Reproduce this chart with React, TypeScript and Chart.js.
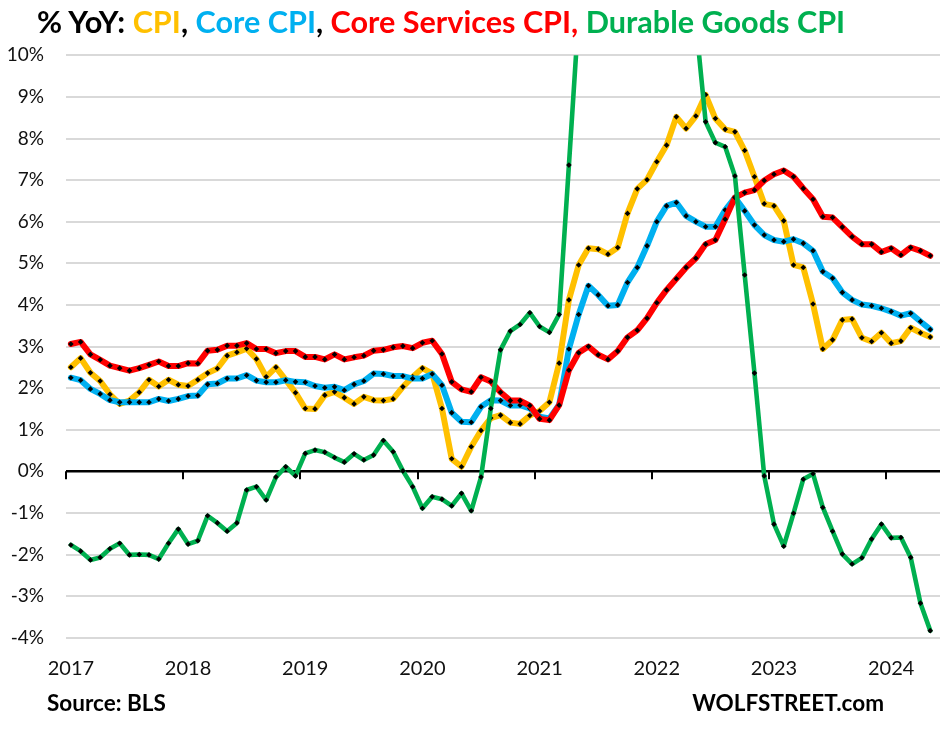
import React, { useEffect, useRef } from 'react';
import { Chart, registerables } from 'chart.js';

Chart.register(...registerables);

// Monthly YoY % changes, Jan 2017 .. May 2024 (89 months)
const YEAR_LABELS = ['2017', '2018', '2019', '2020', '2021', '2022', '2023', '2024'];

const cpi = [
  2.5, 2.72, 2.37, 2.17, 1.85, 1.62, 1.7, 1.9, 2.2, 2.04, 2.2, 2.08,
  2.05, 2.2, 2.36, 2.47, 2.78, 2.86, 2.95, 2.7, 2.27, 2.5, 2.2, 1.89,
  1.51, 1.5, 1.83, 1.91, 1.77, 1.62, 1.79, 1.71, 1.7, 1.74, 2.03, 2.27,
  2.48, 2.35, 1.51, 0.3, 0.11, 0.59, 0.98, 1.28, 1.35, 1.17, 1.14, 1.34,
  1.45, 1.66, 2.6, 4.12, 4.96, 5.36, 5.34, 5.22, 5.38, 6.2, 6.79, 7.01,
  7.44, 7.84, 8.52, 8.24, 8.54, 9.05, 8.48, 8.22, 8.16, 7.71, 7.08, 6.43,
  6.38, 6.02, 4.96, 4.9, 4.02, 2.94, 3.16, 3.64, 3.66, 3.21, 3.12, 3.33,
  3.08, 3.13, 3.45, 3.33, 3.23,
];

const coreCpi = [
  2.25, 2.19, 1.98, 1.86, 1.71, 1.66, 1.66, 1.66, 1.66, 1.74, 1.69, 1.74,
  1.81, 1.82, 2.09, 2.11, 2.23, 2.23, 2.31, 2.18, 2.14, 2.14, 2.19, 2.15,
  2.14, 2.05, 2.01, 2.03, 1.95, 2.09, 2.17, 2.35, 2.34, 2.29, 2.29, 2.23,
  2.23, 2.34, 2.07, 1.41, 1.19, 1.18, 1.55, 1.71, 1.7, 1.58, 1.59, 1.51,
  1.31, 1.27, 1.6, 2.94, 3.77, 4.46, 4.24, 3.98, 4.0, 4.54, 4.9, 5.42,
  6.0, 6.38, 6.46, 6.14, 6.0, 5.88, 5.88, 6.28, 6.58, 6.26, 5.92, 5.68,
  5.56, 5.52, 5.58, 5.48, 5.3, 4.8, 4.64, 4.3, 4.12, 4.01, 3.98, 3.92,
  3.84, 3.74, 3.8, 3.6, 3.41,
];

const coreServicesCpi = [
  3.06, 3.11, 2.81, 2.68, 2.54, 2.48, 2.42, 2.48, 2.56, 2.64, 2.53, 2.53,
  2.6, 2.59, 2.9, 2.92, 3.02, 3.02, 3.08, 2.94, 2.94, 2.84, 2.89, 2.89,
  2.75, 2.75, 2.69, 2.81, 2.69, 2.74, 2.78, 2.9, 2.92, 2.98, 3.01, 2.96,
  3.09, 3.14, 2.82, 2.15, 1.97, 1.91, 2.26, 2.16, 1.9, 1.7, 1.7, 1.58,
  1.26, 1.23, 1.59, 2.43, 2.85, 3.0, 2.8, 2.69, 2.89, 3.22, 3.39, 3.68,
  4.05, 4.36, 4.63, 4.9, 5.12, 5.46, 5.56, 6.06, 6.58, 6.7, 6.76, 6.99,
  7.14, 7.23, 7.08, 6.8, 6.54, 6.12, 6.1, 5.87, 5.64, 5.46, 5.46, 5.27,
  5.36, 5.2, 5.38, 5.3, 5.18,
];

const durableGoodsCpi = [
  -1.77, -1.92, -2.13, -2.07, -1.86, -1.73, -2.01, -2.0, -2.01, -2.11, -1.73, -1.39,
  -1.75, -1.67, -1.07, -1.24, -1.44, -1.24, -0.45, -0.37, -0.69, -0.14, 0.11, -0.11,
  0.43, 0.51, 0.46, 0.33, 0.22, 0.42, 0.27, 0.39, 0.74, 0.47, 0.01, -0.37,
  -0.89, -0.61, -0.67, -0.83, -0.53, -0.95, -0.14, 1.51, 2.92, 3.37, 3.53, 3.81,
  3.48, 3.34, 3.77, 7.36, 11.0, 14.6, 15.1, 14.0, 13.2, 13.2, 14.9, 16.6,
  18.3, 18.7, 17.6, 14.2, 10.8, 8.4, 7.9, 7.8, 7.1, 4.72, 2.36, -0.11,
  -1.27, -1.8, -1.01, -0.19, -0.06, -0.87, -1.44, -1.99, -2.23, -2.08, -1.63, -1.27,
  -1.6, -1.59, -2.07, -3.17, -3.83,
];

const Y_MIN = -4;
const Y_MAX = 10;

const COLORS = {
  cpi: '#FFC000',
  core: '#00B0F0',
  services: '#FF0000',
  durable: '#00B050',
};

const FONT = 'Lato, "Open Sans", "Liberation Sans", sans-serif';

const toPoints = (arr: number[]) => arr.map((v, i) => ({ x: i, y: v }));

const zeroAxisPlugin = {
  id: 'zeroAxis',
  beforeDatasetsDraw(chart: any) {
    const { ctx, chartArea, scales } = chart;
    const x = scales.x;
    const y = scales.y;
    const y0 = y.getPixelForValue(0);
    ctx.save();
    ctx.strokeStyle = '#000';
    ctx.lineWidth = 2.5;
    ctx.beginPath();
    ctx.moveTo(chartArea.left, y0);
    ctx.lineTo(chartArea.right, y0);
    ctx.stroke();
    ctx.lineWidth = 2;
    YEAR_LABELS.forEach((_, k) => {
      const px = Math.round(x.getPixelForValue(-0.5 + 12 * k));
      ctx.beginPath();
      ctx.moveTo(px, y0);
      ctx.lineTo(px, y0 + 8);
      ctx.stroke();
    });
    ctx.restore();
  },
};

export default function App() {
  const canvasRef = useRef<HTMLCanvasElement | null>(null);

  useEffect(() => {
    document.body.style.margin = '0';
    const canvas = canvasRef.current;
    if (!canvas) return;

    const lineDs = (label: string, data: number[], color: string, width: number, order: number) => ({
      label,
      data: toPoints(data),
      borderColor: color,
      backgroundColor: color,
      borderWidth: width,
      borderJoinStyle: 'round' as const,
      borderCapStyle: 'round' as const,
      tension: 0,
      pointStyle: 'rectRot' as const,
      pointRadius: 2.8,
      pointBorderWidth: 0,
      pointBackgroundColor: '#000',
      pointBorderColor: '#000',
      order,
    });

    const chart = new Chart(canvas, {
      type: 'line',
      data: {
        datasets: [
          lineDs('CPI', cpi, COLORS.cpi, 6, 4),
          lineDs('Core CPI', coreCpi, COLORS.core, 6, 3),
          lineDs('Core Services CPI', coreServicesCpi, COLORS.services, 6, 2),
          lineDs('Durable Goods CPI', durableGoodsCpi, COLORS.durable, 4.6, 1),
        ],
      },
      options: {
        animation: false,
        responsive: false,
        devicePixelRatio: 1,
        layout: { padding: { left: 0, right: 5, top: 55.3, bottom: 45.3 } },
        plugins: {
          legend: { display: false },
          tooltip: { enabled: false },
          title: { display: false },
        },
        scales: {
          x: {
            type: 'linear',
            min: -0.5,
            max: 89,
            grid: { display: false },
            border: { display: false },
            afterBuildTicks: (scale: any) => {
              scale.ticks = YEAR_LABELS.map((_, k) => ({ value: 12 * k }));
            },
            afterFit: (scale: any) => {
              scale.height = 50;
            },
            ticks: {
              autoSkip: false,
              maxRotation: 0,
              padding: 11,
              color: '#111',
              font: { family: FONT, size: 20 },
              callback: (v: any) => YEAR_LABELS[Math.round(Number(v) / 12)] ?? '',
            },
          },
          y: {
            type: 'linear',
            min: Y_MIN,
            max: Y_MAX,
            afterFit: (scale: any) => {
              scale.width = 66;
            },
            grid: { color: '#D9D9D9', lineWidth: 2, drawTicks: false },
            border: { display: false },
            ticks: {
              stepSize: 1,
              padding: 22,
              color: '#111',
              font: { family: FONT, size: 19 },
              callback: (v: any) => `${v}%`,
            },
          },
        },
      },
      plugins: [zeroAxisPlugin],
    });

    return () => chart.destroy();
  }, []);

  return (
    <div style={{ position: 'absolute', left: 0, top: 0, width: 945, height: 733, background: '#fff', fontFamily: FONT }}>
      <canvas ref={canvasRef} width={945} height={733} style={{ position: 'absolute', left: 0, top: 0, display: 'block', width: 945, height: 733 }} />
      <div
        style={{
          position: 'absolute',
          left: 37,
          top: 3,
          fontSize: 30.6,
          fontWeight: 700,
          whiteSpace: 'nowrap',
          lineHeight: '38px',
          color: '#000',
        }}
      >
        <span>% YoY: </span>
        <span style={{ color: COLORS.cpi }}>CPI</span>
        <span>, </span>
        <span style={{ color: COLORS.core }}>Core CPI</span>
        <span>, </span>
        <span style={{ color: COLORS.services }}>Core Services CPI, </span>
        <span style={{ color: COLORS.durable }}>Durable Goods CPI</span>
      </div>
      <div
        style={{
          position: 'absolute',
          left: 47,
          top: 688,
          fontSize: 22.5,
          fontWeight: 700,
          lineHeight: '30px',
          whiteSpace: 'nowrap',
          color: '#000',
        }}
      >
        Source: BLS
      </div>
      <div
        style={{
          position: 'absolute',
          right: 61,
          top: 687,
          fontSize: 22.5,
          fontWeight: 700,
          lineHeight: '32px',
          whiteSpace: 'nowrap',
          color: '#000',
        }}
      >
        WOLFSTREET.com
      </div>
    </div>
  );
}
